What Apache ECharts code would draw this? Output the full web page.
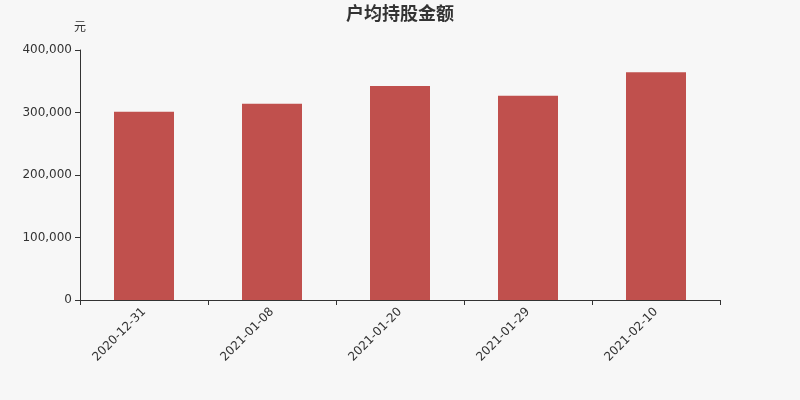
<!DOCTYPE html>
<html>
<head>
<meta charset="utf-8">
<script src="https://cdn.jsdelivr.net/npm/echarts@6/dist/echarts.min.js"></script>
<style>
  html, body { margin: 0; padding: 0; background: #f7f7f7; }
  #chart { width: 800px; height: 400px; }
</style>
</head>
<body>
<div id="chart"></div>
<script>
const dates = ["2020-12-31", "2021-01-08", "2021-01-20", "2021-01-29", "2021-02-10"];
const amounts = [301300, 314100, 342400, 326900, 364300];

const chart = echarts.init(document.getElementById("chart"));
// 户均持股金额
chart.setOption({
  backgroundColor: "#f7f7f7",
  animation: false,
  textStyle: { fontFamily: "DejaVu Sans, Noto Sans CJK SC, sans-serif" },
  title: {
    text: "户均持股金额",
    left: "center",
    top: 1,
    textStyle: { fontSize: 18, fontWeight: "bold", color: "#333" }
  },
  grid: { left: 80, right: 80, top: 50, bottom: 100 },
  xAxis: {
    type: "category",
    data: dates,
    axisLine: { lineStyle: { color: "#333" } },
    axisTick: { show: true, lineStyle: { color: "#333" } },
    axisLabel: { rotate: 45, color: "#333", fontSize: 12, margin: 10 }
  },
  yAxis: {
    type: "value",
    name: "元",
    nameGap: 16,
    nameTextStyle: { color: "#333", fontSize: 12, align: "center" },
    min: 0,
    max: 400000,
    interval: 100000,
    axisLine: { show: true, lineStyle: { color: "#333" } },
    axisTick: { show: true, lineStyle: { color: "#333" } },
    axisLabel: { color: "#333", fontSize: 12, formatter: v => v.toLocaleString("en-US") },
    splitLine: { show: false }
  },
  series: [{
    type: "bar",
    data: amounts,
    barWidth: 60,
    itemStyle: { color: "#c0504d" }
  }]
});
</script>
</body>
</html>
